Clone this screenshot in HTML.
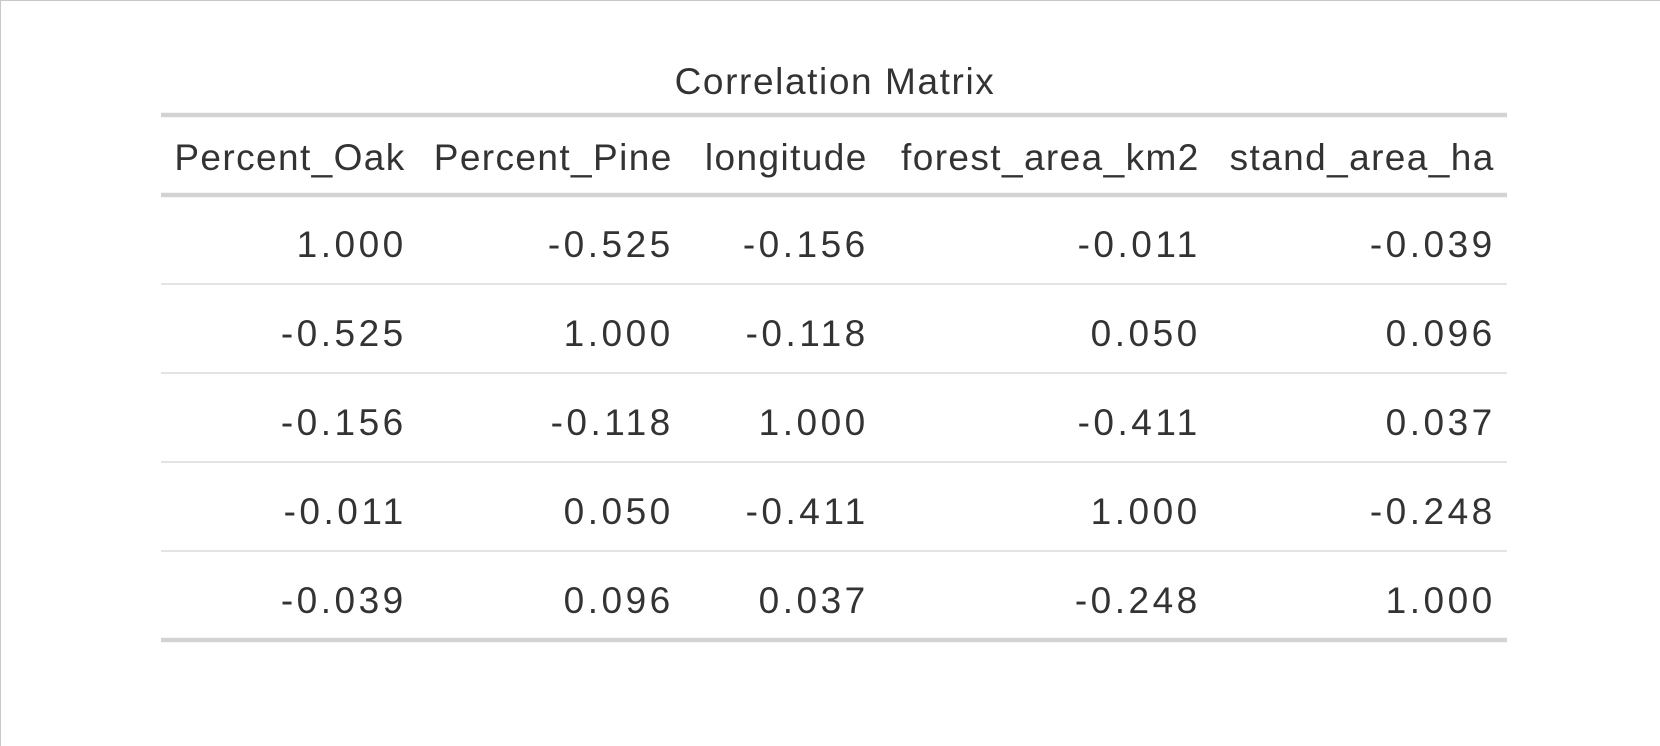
<!DOCTYPE html>
<html><head><meta charset="utf-8"><style>
html,body{margin:0;padding:0;background:#fff;}
svg{display:block;font-family:"Liberation Sans",Arial,sans-serif;}
</style></head><body>
<svg id="chart" width="1660" height="746" viewBox="0 0 1660 746" xmlns="http://www.w3.org/2000/svg">
<rect x="0.5" y="0.5" width="1680" height="760" fill="#fff" stroke="#c8c8c8"/>
<text x="835" y="94" text-anchor="middle" font-size="37" letter-spacing="1.6" fill="#333">Correlation Matrix</text>
<g id="tbl"></g>
</svg>
<script>
const columns = ["Percent_Oak","Percent_Pine","longitude","forest_area_km2","stand_area_ha"];
const row1 = ["1.000","-0.525","-0.156","-0.011","-0.039"];
const row2 = ["-0.525","1.000","-0.118","0.050","0.096"];
const row3 = ["-0.156","-0.118","1.000","-0.411","0.037"];
const row4 = ["-0.011","0.050","-0.411","1.000","-0.248"];
const row5 = ["-0.039","0.096","0.037","-0.248","1.000"];
const rows = [row1,row2,row3,row4,row5];

const NS="http://www.w3.org/2000/svg";
const g=document.getElementById('tbl');
const colRight=[405,672,867,1199,1494];
const tL=161,tR=1507,tableTop=115,headBot=195,rowH=89;
function line(y,w,c,name){
  const l=document.createElementNS(NS,'line');
  l.setAttribute('x1',tL);l.setAttribute('x2',tR);l.setAttribute('y1',y);l.setAttribute('y2',y);
  l.setAttribute('stroke',c);l.setAttribute('stroke-width',w);
  
  
  g.appendChild(l);
}
function txt(x,y,s,ls,name){
  const t=document.createElementNS(NS,'text');
  t.setAttribute('x',x+ls/2);t.setAttribute('y',y);t.setAttribute('text-anchor','end');
  t.setAttribute('font-size','37');t.setAttribute('fill','#333');
  t.setAttribute('letter-spacing',ls);
  t.textContent=s;
  
  
  g.appendChild(t);
}
line(tableTop,4.5,'#d3d3d3','top-border');
line(headBot,4.5,'#d3d3d3','header-border');
columns.forEach((c,i)=>txt(colRight[i],170,c,1.4,'column-header'));
rows.forEach((r,ri)=>{
  const yc=headBot+rowH*ri+rowH/2;
  r.forEach((v,ci)=>txt(colRight[ci],yc+17.5,v,3.5,'cell-value'));
  if(ri<rows.length-1) line(headBot+rowH*(ri+1),1.2,'#d3d3d3','row-separator');
});
line(headBot+rowH*rows.length,4.5,'#d3d3d3','bottom-border');
</script>
</body></html>
